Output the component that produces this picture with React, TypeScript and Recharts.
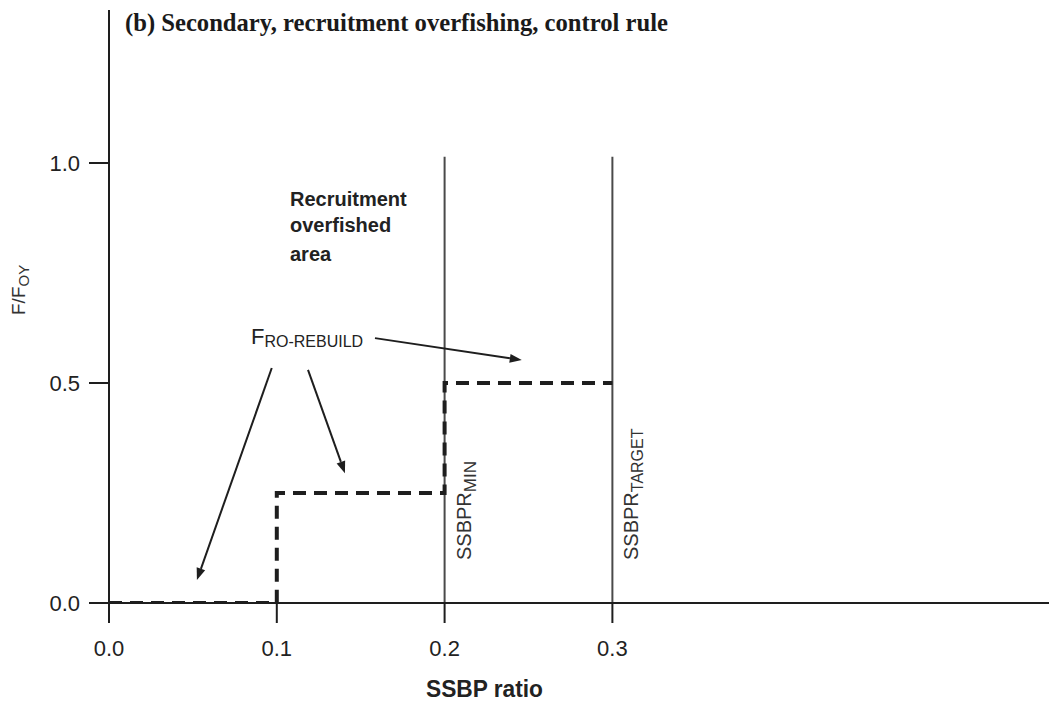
import { ComposedChart, Line, XAxis, YAxis, ReferenceLine } from "recharts";

// control rule: F/F_OY against SSBP ratio
const RULE_SSBP = [0, 0.1, 0.1, 0.2, 0.2, 0.3];
const RULE_F = [0, 0, 0.25, 0.25, 0.5, 0.5];

const X_TICKS = [0, 0.1, 0.2, 0.3];
const Y_TICKS = [0, 0.5, 1.0];

const SSBPR_MIN = 0.2;
const SSBPR_TARGET = 0.3;
const REF_TOP = 1.014;

// annotation arrows [fromX, fromY, toX, toY] in data units
const ARROWS = [
  [0.097, 0.534, 0.0524, 0.052],
  [0.1186, 0.53, 0.1406, 0.295],
  [0.1585, 0.602, 0.246, 0.552],
];

const data = RULE_SSBP.map((x, i) => ({ x, f: RULE_F[i] }));

const W = 1049;
const H = 712;
const INK = "#1e1e1e";

const arrowShape = (p: any) => {
  const { x1, y1, x2, y2 } = p;
  const a = Math.atan2(y2 - y1, x2 - x1);
  const len = 12;
  const half = 4.5;
  const bx = x2 - len * Math.cos(a);
  const by = y2 - len * Math.sin(a);
  const nx = -Math.sin(a) * half;
  const ny = Math.cos(a) * half;
  return (
    <g>
      <line x1={x1} y1={y1} x2={bx} y2={by} stroke={INK} strokeWidth={2} />
      <polygon points={`${x2},${y2} ${bx + nx},${by + ny} ${bx - nx},${by - ny}`} fill={INK} />
    </g>
  );
};

const refShape = (main: string, sub: string, subSize: number) => (p: any) => {
  const { x1, y1, x2, y2 } = p;
  const bottom = Math.max(y1, y2);
  const tx = x1 + 26;
  const ty = bottom - 43;
  return (
    <g>
      <line x1={x1} y1={y1} x2={x2} y2={y2} stroke="#4a4a4a" strokeWidth={2} />
      <text
        x={tx}
        y={ty}
        transform={`rotate(-90 ${tx} ${ty})`}
        fontFamily="Liberation Sans, Arial, sans-serif"
        fontSize={20}
        fill="#333"
      >
        {main}
        <tspan fontSize={subSize} dy={5}>{sub}</tspan>
      </text>
    </g>
  );
};

const App = () => {
  return (
    <div style={{ position: "absolute", left: 0, top: 0, width: W, height: H, background: "#fff" }}>
      <ComposedChart width={W} height={H} data={data} margin={{ top: 10, right: 0, left: 0, bottom: 0 }}>
        <XAxis
          type="number"
          dataKey="x"
          domain={[0, 0.5602]}
          allowDataOverflow
          ticks={X_TICKS}
          tickFormatter={(v: number) => v.toFixed(1)}
          height={109}
          tickSize={20}
          tickMargin={17}
          axisLine={{ stroke: INK, strokeWidth: 2 }}
          tickLine={{ stroke: INK, strokeWidth: 2 }}
          tick={{ fill: "#222", fontSize: 22, fontFamily: "Liberation Sans, Arial, sans-serif" }}
        />
        <YAxis
          type="number"
          domain={[0, 1.3477]}
          allowDataOverflow
          ticks={Y_TICKS}
          tickFormatter={(v: number) => v.toFixed(1)}
          width={109}
          tickSize={20}
          tickMargin={9}
          axisLine={{ stroke: INK, strokeWidth: 2 }}
          tickLine={{ stroke: INK, strokeWidth: 2 }}
          tick={{ fill: "#222", fontSize: 22, fontFamily: "Liberation Sans, Arial, sans-serif" }}
        />
        <ReferenceLine
          segment={[{ x: SSBPR_MIN, y: 0 }, { x: SSBPR_MIN, y: REF_TOP }]}
          shape={refShape("SSBPR", "MIN", 17)}
        />
        <ReferenceLine
          segment={[{ x: SSBPR_TARGET, y: 0 }, { x: SSBPR_TARGET, y: REF_TOP }]}
          shape={refShape("SSBPR", "TARGET", 16)}
        />
        {ARROWS.map((a, i) => (
          <ReferenceLine
            key={i}
            segment={[{ x: a[0], y: a[1] }, { x: a[2], y: a[3] }]}
            shape={arrowShape}
          />
        ))}
        <Line
          type="linear"
          dataKey="f"
          stroke={INK}
          strokeWidth={4}
          strokeDasharray="13 8"
          dot={false}
          isAnimationActive={false}
        />
      </ComposedChart>
      <svg
        width={W}
        height={H}
        style={{ position: "absolute", left: 0, top: 0, pointerEvents: "none" }}
      >
        <text
          x={125}
          y={31}
          fontFamily="Liberation Serif, Times New Roman, serif"
          fontWeight="bold"
          fontSize={26}
          fill="#1a1a1a"
          textLength={543}
          lengthAdjust="spacingAndGlyphs"
        >
          (b) Secondary, recruitment overfishing, control rule
        </text>
        <g fontFamily="Liberation Sans, Arial, sans-serif" fontWeight="bold" fontSize={20} fill="#222">
          <text x={290} y={206}>Recruitment</text>
          <text x={290} y={232}>overfished</text>
          <text x={290} y={261}>area</text>
        </g>
        <text x={251} y={344} fontFamily="Liberation Sans, Arial, sans-serif" fontSize={22} fill="#222">
          F<tspan fontSize={16} dy={3}>RO-REBUILD</tspan>
        </text>
        <text
          x={426}
          y={697}
          fontFamily="Liberation Sans, Arial, sans-serif"
          fontWeight="bold"
          fontSize={24}
          fill="#222"
          textLength={117}
          lengthAdjust="spacingAndGlyphs"
        >
          SSBP ratio
        </text>
        <text
          x={25}
          y={315}
          transform="rotate(-90 25 315)"
          fontFamily="Liberation Sans, Arial, sans-serif"
          fontSize={19}
          fill="#333"
        >
          F/F<tspan fontSize={15} dy={4}>OY</tspan>
        </text>
      </svg>
    </div>
  );
};

export default App;
